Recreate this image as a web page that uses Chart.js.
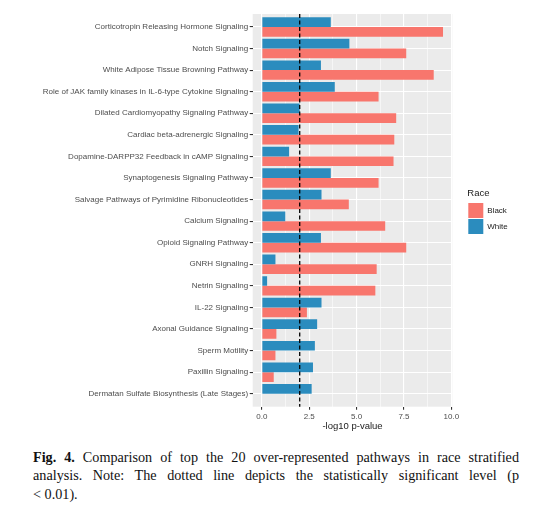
<!DOCTYPE html>
<html>
<head>
<meta charset="utf-8">
<script src="https://cdn.jsdelivr.net/npm/chart.js@4.4.1/dist/chart.umd.min.js"></script>
<style>
body{margin:0;background:#fff;width:533px;height:520px;overflow:hidden}
#wrap{position:absolute;left:0;top:0;width:533px;height:440px}
#caption{position:absolute;left:33px;top:447.5px;width:486px;font-family:"Liberation Serif",serif;font-size:14.2px;line-height:18.6px;color:#111}
#caption div{text-align:justify;text-align-last:justify;white-space:nowrap}
#caption div.ult{text-align-last:left}
</style>
</head>
<body>
<div id="wrap"><canvas id="grafica"></canvas></div>
<div id="caption">
<div><b>Fig. 4.</b> Comparison of top the 20 over-represented pathways in race stratified</div>
<div>analysis. Note: The dotted line depicts the statistically significant level (p</div>
<div class="ult">&lt; 0.01).</div>
</div>
<script>
// datos de la grafica
var vias = [
  "Corticotropin Releasing Hormone Signaling",
  "Notch Signaling",
  "White Adipose Tissue Browning Pathway",
  "Role of JAK family kinases in IL-6-type Cytokine Signaling",
  "Dilated Cardiomyopathy Signaling Pathway",
  "Cardiac beta-adrenergic Signaling",
  "Dopamine-DARPP32 Feedback in cAMP Signaling",
  "Synaptogenesis Signaling Pathway",
  "Salvage Pathways of Pyrimidine Ribonucleotides",
  "Calcium Signaling",
  "Opioid Signaling Pathway",
  "GNRH Signaling",
  "Netrin Signaling",
  "IL-22 Signaling",
  "Axonal Guidance Signaling",
  "Sperm Motility",
  "Paxillin Signaling",
  "Dermatan Sulfate Biosynthesis (Late Stages)"
];
var valoresBlack = [9.56, 7.62, 9.07, 6.16, 7.09, 6.99, 6.95, 6.16, 4.59, 6.51, 7.62, 6.06, 5.99, 2.38, 0.77, 0.72, 0.63, null];
var valoresWhite = [3.64, 4.62, 3.12, 3.85, 2.00, 1.94, 1.44, 3.64, 3.15, 1.24, 3.12, 0.72, 0.28, 3.15, 2.92, 2.80, 2.70, 2.63];
var ticksX = [0, 2.5, 5, 7.5, 10];
var ticksMenores = [1.25, 3.75, 6.25, 8.75];
var umbral = 2;

var colorBlack = '#F8766D';
var colorWhite = '#2B8CBE';

// fondo gris del panel
var fondoPanel = {
  id: 'fondoPanel',
  beforeDraw: function(chart){
    var a = chart.chartArea, ctx = chart.ctx;
    ctx.save();
    ctx.fillStyle = '#EBEBEB';
    ctx.fillRect(a.left, a.top, a.right - a.left, a.bottom - a.top);
    ctx.restore();
  }
};

// linea punteada del nivel significativo
var lineaUmbral = {
  id: 'lineaUmbral',
  afterDatasetsDraw: function(chart){
    var a = chart.chartArea, ctx = chart.ctx;
    var x = chart.scales.x.getPixelForValue(umbral);
    ctx.save();
    ctx.strokeStyle = '#000';
    ctx.lineWidth = 1.3;
    ctx.setLineDash([4, 2.5]);
    ctx.beginPath();
    ctx.moveTo(x, a.top);
    ctx.lineTo(x, a.bottom);
    ctx.stroke();
    ctx.restore();
  }
};

// leyenda a la derecha con el ancho de ggplot
var ajusteLeyenda = {
  id: 'ajusteLeyenda',
  afterInit: function(chart){
    var leyenda = chart.legend;
    var fitOrig = leyenda.fit;
    leyenda.fit = function(){
      fitOrig.call(this);
      this.width = 80.7;
    };
  },
  afterLayout: function(chart){
    var leyenda = chart.legend;
    leyenda.left += 15;
    leyenda.top -= 12;
    leyenda.bottom -= 12;
  }
};

var datosGrafica = {
  labels: vias,
  datasets: [{
    label: 'White',
    backgroundColor: colorWhite,
    data: valoresWhite
  }, {
    label: 'Black',
    backgroundColor: colorBlack,
    data: valoresBlack
  }]
};

var grafica = document.getElementById('grafica');
var barchart = new Chart(grafica, {
  type: 'bar',
  data: datosGrafica,
  plugins: [fondoPanel, lineaUmbral, ajusteLeyenda],
  options: {
    indexAxis: 'y',
    responsive: true,
    maintainAspectRatio: false,
    animation: false,
    layout: {padding: {top: 14, bottom: 6.3, left: 0, right: 0}},
    datasets: {bar: {categoryPercentage: 0.9, barPercentage: 1.0}},
    scales: {
      x: {
        type: 'linear',
        min: -0.48,
        max: 10.05,
        afterBuildTicks: function(scale){
          scale.ticks = ticksX.concat(ticksMenores).sort(function(a, b){ return a - b; }).map(function(v){ return {value: v}; });
        },
        afterFit: function(scale){ scale.height = 27; },
        border: {display: false},
        grid: {
          color: '#FFFFFF',
          lineWidth: function(c){ return ticksX.indexOf(c.tick.value) >= 0 ? 1.1 : 0.55; },
          tickColor: function(c){ return ticksX.indexOf(c.tick.value) >= 0 ? '#333333' : 'rgba(0,0,0,0)'; },
          tickLength: 3
        },
        ticks: {
          autoSkip: false,
          maxRotation: 0,
          padding: 2.5,
          color: '#4D4D4D',
          font: {family: 'Liberation Sans', size: 8},
          callback: function(v){ return ticksX.indexOf(v) >= 0 ? v.toFixed(1) : ''; }
        },
        title: {
          display: true,
          text: '-log10 p-value',
          color: '#1A1A1A',
          font: {family: 'Liberation Sans', size: 9.5},
          padding: {top: 0, bottom: 2}
        }
      },
      y: {
        type: 'category',
        afterBuildTicks: function(scale){
          // expansion como ggplot (0.6 por lado)
          scale._startValue = -0.6;
          scale._valueRange = vias.length + 0.2;
        },
        afterFit: function(scale){ scale.width = 252.7; },
        border: {display: false},
        grid: {
          offset: false,
          color: '#FFFFFF',
          lineWidth: 1.1,
          tickColor: '#333333',
          tickLength: 3
        },
        ticks: {
          autoSkip: false,
          padding: 1.5,
          color: '#4D4D4D',
          font: {family: 'Liberation Sans', size: 8}
        }
      }
    },
    plugins: {
      tooltip: {enabled: false},
      legend: {
        position: 'right',
        reverse: true,
        title: {
          display: true,
          position: 'start',
          text: 'Race',
          color: '#1A1A1A',
          font: {family: 'Liberation Sans', size: 9.5},
          padding: {top: 0, bottom: 2}
        },
        labels: {
          boxWidth: 15,
          boxHeight: 15,
          padding: 1,
          color: '#1A1A1A',
          font: {family: 'Liberation Sans', size: 8}
        }
      }
    }
  }
});
</script>
</body>
</html>
